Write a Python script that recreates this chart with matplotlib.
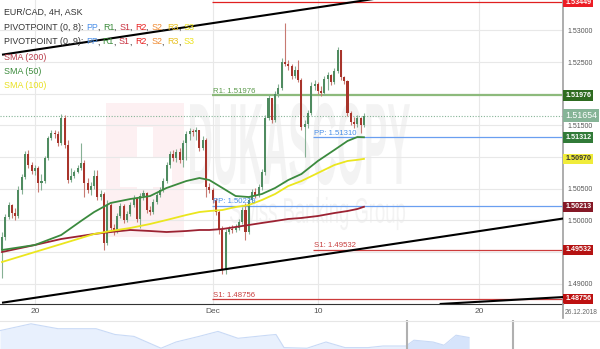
import numpy as np
import matplotlib.pyplot as plt
from matplotlib.patches import Rectangle, PathPatch
from matplotlib.textpath import TextPath
from matplotlib.font_manager import FontProperties
from matplotlib.transforms import Affine2D, blended_transform_factory
from matplotlib.lines import Line2D

plt.rcParams["font.family"] = ["Liberation Sans", "DejaVu Sans"]

# EUR/CAD 4H candles, bar 0 = first visible candle
first_open = 1.49530
closes = [
    1.49735, 1.50052, 1.50241, 1.50114, 1.50067, 1.50478, 1.50684, 1.51047, 1.50873, 1.50779,
    1.50826, 1.50589, 1.50620, 1.50984, 1.51300, 1.51379, 1.51363, 1.51221, 1.51616, 1.51190,
    1.50636, 1.50700, 1.50763, 1.50826, 1.50905, 1.50589, 1.50478, 1.50541, 1.50700, 1.50367,
    1.50415, 1.49641, 1.50241, 1.49878, 1.49830, 1.50067, 1.50225, 1.50004, 1.50099, 1.50241,
    1.50352, 1.50020, 1.50383, 1.50431, 1.50162, 1.50130, 1.50288, 1.50399, 1.50478, 1.50620,
    1.50873, 1.51047, 1.50984, 1.51079, 1.50952, 1.51221, 1.51363, 1.51411, 1.51395, 1.51427,
    1.51142, 1.51269, 1.50525, 1.50478, 1.50320, 1.50130, 1.49846, 1.49213, 1.49814, 1.49862,
    1.49846, 1.49878, 1.49973, 1.50162, 1.49814, 1.50320, 1.50447, 1.50399, 1.50525, 1.50763,
    1.51616, 1.51933, 1.51585, 1.51996, 1.52091, 1.52502, 1.52470, 1.52439, 1.52280, 1.52375,
    1.52217, 1.51474, 1.51521, 1.51695, 1.52122, 1.52154, 1.52043, 1.52012, 1.52233, 1.52296,
    1.52186, 1.52360, 1.52692, 1.52265, 1.52201, 1.51695, 1.51553, 1.51521, 1.51616, 1.51506,
    1.51654,
]
highs = [
    1.49814, 1.50099, 1.50288, 1.50257, 1.50194, 1.50541, 1.50731, 1.51095, 1.51111, 1.50921,
    1.50873, 1.50858, 1.50731, 1.51016, 1.51332, 1.51427, 1.51427, 1.51411, 1.51680, 1.51664,
    1.51269, 1.50826, 1.50795, 1.50873, 1.51221, 1.50952, 1.50668, 1.50605, 1.50795, 1.50795,
    1.50478, 1.50447, 1.50320, 1.50273, 1.49941, 1.50114, 1.50273, 1.50257, 1.50146, 1.50288,
    1.50399, 1.50352, 1.50431, 1.50478, 1.50447, 1.50225, 1.50336, 1.50447, 1.50525, 1.50668,
    1.50921, 1.51095, 1.51111, 1.51127, 1.51142, 1.51269, 1.51411, 1.51458, 1.51442, 1.51474,
    1.51427, 1.51332, 1.51300, 1.50589, 1.50510, 1.50352, 1.50162, 1.49909, 1.49862, 1.49909,
    1.49925, 1.49941, 1.50020, 1.50209, 1.50273, 1.50367, 1.50494, 1.50510, 1.50573, 1.50810,
    1.51664, 1.51980, 1.51822, 1.52043, 1.52154, 1.52565, 1.53118, 1.52533, 1.52470, 1.52439,
    1.52533, 1.52249, 1.51585, 1.51743, 1.52186, 1.52217, 1.52186, 1.52122, 1.52280, 1.52344,
    1.52312, 1.52407, 1.52739, 1.52692, 1.52280, 1.52217, 1.51727, 1.51632, 1.51664, 1.51632,
    1.51695,
]
lows = [
    1.49087, 1.49688, 1.50020, 1.50036, 1.50004, 1.50036, 1.50415, 1.50652, 1.50826, 1.50731,
    1.50715, 1.50447, 1.50478, 1.50589, 1.50952, 1.51269, 1.51300, 1.51174, 1.51190, 1.51142,
    1.50589, 1.50605, 1.50668, 1.50747, 1.50795, 1.50367, 1.50431, 1.50399, 1.50494, 1.50320,
    1.50320, 1.49530, 1.49609, 1.49814, 1.49767, 1.49799, 1.50036, 1.49957, 1.49973, 1.50067,
    1.50209, 1.49973, 1.49878, 1.50320, 1.50114, 1.50083, 1.50099, 1.50257, 1.50367, 1.50447,
    1.50589, 1.50826, 1.50937, 1.50921, 1.50905, 1.50842, 1.50952, 1.51269, 1.51332, 1.51269,
    1.51095, 1.51111, 1.50367, 1.50431, 1.50273, 1.50083, 1.49783, 1.49150, 1.49150, 1.49783,
    1.49799, 1.49814, 1.49846, 1.49941, 1.49688, 1.49783, 1.50288, 1.50352, 1.50367, 1.50478,
    1.50715, 1.51585, 1.51537, 1.51553, 1.51948, 1.52059, 1.52439, 1.52375, 1.52233, 1.52249,
    1.52186, 1.51427, 1.51000, 1.51458, 1.51664, 1.52059, 1.51996, 1.51964, 1.51980, 1.52059,
    1.52138, 1.52154, 1.52328, 1.52217, 1.52154, 1.51648, 1.51506, 1.51458, 1.51474, 1.51379,
    1.51474,
]
opens = [first_open] + closes[:-1]

# moving averages, read at a few bars
sma_bars = [0, 10, 18, 24, 28, 33, 39, 45, 50, 56, 60, 63, 67, 71, 75, 79, 83, 87, 91, 96, 101, 105, 108, 110]
sma50 = [1.49530, 1.49609, 1.49767, 1.49988, 1.50130, 1.50273, 1.50336, 1.50383, 1.50510, 1.50620,
         1.50668, 1.50636, 1.50510, 1.50383, 1.50367, 1.50415, 1.50510, 1.50636, 1.50731, 1.50937,
         1.51111, 1.51253, 1.51316, 1.51312]
sma100 = [1.49340, 1.49498, 1.49624, 1.49719, 1.49783, 1.49830, 1.49878, 1.49941, 1.50004, 1.50083,
          1.50130, 1.50146, 1.50162, 1.50209, 1.50241, 1.50320, 1.50415, 1.50541, 1.50620, 1.50747,
          1.50873, 1.50937, 1.50955, 1.50970]
sma200 = [1.49498, 1.49609, 1.49704, 1.49751, 1.49783, 1.49814, 1.49846, 1.49830, 1.49814, 1.49830,
          1.49846, 1.49846, 1.49862, 1.49893, 1.49925, 1.49957, 1.49988, 1.50020, 1.50036, 1.50067,
          1.50114, 1.50146, 1.50178, 1.50213]

# pivot levels (monthly from Dec, weekly from Dec 10)
pivot_names = ["R2", "R1", "PP", "S1", "PP", "S1"]
pivot_values = [1.53449, 1.51976, 1.50229, 1.48756, 1.51310, 1.49532]
pivot_start = [63.8, 63.8, 63.8, 63.8, 94.6, 94.6]
pivot_colors = ["#e02020", "#8dba7c", "#6a9ff0", "#cc3a3a", "#6a9ff0", "#cc3a3a"]
pivot_text_colors = ["#d02020", "#5a9a4a", "#4a8fe8", "#c84040", "#4a8fe8", "#c84040"]

# trend lines: bar positions and prices at both ends
upper_trend = ([0, 130], [1.52617, 1.53631])
lower_trend = ([0, 171], [1.48696, 1.50031])
base_trend = ([133, 171], [1.48676, 1.48787])

last_price = 1.51654

# price boxes on the right axis
box_values = [1.53449, 1.51976, 1.51654, 1.51312, 1.50970, 1.50213, 1.49532, 1.48756]
box_colors = ["#ec1c24", "#2e6b20", "#86b497", "#317a38", "#f0ec3a", "#851826", "#b51212", "#bd1010"]
box_text = ["white", "white", "white", "white", "#333333", "white", "white", "white"]

ytick_values = [1.490, 1.495, 1.500, 1.505, 1.510, 1.515, 1.520, 1.525, 1.530]
ytick_hidden = [1.495, 1.510, 1.520]  # covered by the price boxes
xtick_bars = [10, 64, 96, 145]
xtick_labels = ["20", "Dec", "10", "20"]

# navigator (long history overview)
nav_x = [0, 31, 58, 96, 115, 134, 161, 176, 199, 218, 238, 268, 276, 284, 307, 326, 345, 368, 383,
         406, 414, 433, 444, 456, 469]
nav_vals = [18.4, 25.2, 20.3, 20.3, 14.5, 12.6, 0.8, 7.0, 12.6, 17.6, 10.7, 13.8, 14.5, 1.4, 0.8,
            7.0, 1.4, 1.4, 3.0, 3.0, 8.8, 7.0, 3.8, 13.8, 11.5]

fig = plt.figure(figsize=(6, 3.49), dpi=100)
ax = fig.add_axes([0, 45 / 349, 563 / 600, 304 / 349])
ax.set_xlim(-0.61, 170.5)
ax.set_ylim(1.48676, 1.53482)

# watermark: logo block and text
ax.add_patch(Rectangle((0.1883, 0.2204), 0.1385, 0.4408, transform=ax.transAxes, fc="#fdf0f2", ec="none", zorder=0.2))
ax.add_patch(Rectangle((0.2433, 0.375), 0.0285, 0.207, transform=ax.transAxes, fc="white", ec="none", zorder=0.3))
ax.add_patch(Rectangle((0.2131, 0.3849), 0.0924, 0.0987, transform=ax.transAxes, fc="white", ec="none", zorder=0.3))


def watermark(text, box, weight):
    tp = TextPath((0, 0), text, size=1, prop=FontProperties(family="Liberation Sans", weight=weight))
    bb = tp.get_extents()
    tr = (Affine2D().translate(-bb.x0, -bb.y0)
          .scale((box[2] - box[0]) / bb.width, (box[3] - box[1]) / bb.height)
          .translate(box[0], box[1]))
    ax.add_patch(PathPatch(tr.transform_path(tp), transform=ax.transAxes, fc="#f3f3f3", ec="none", zorder=0.4))


watermark("DUKASCOPY", (0.3375, 0.3914, 0.7282, 0.6612), "bold")
watermark("Swiss Banking Group", (0.4085, 0.2434, 0.7194, 0.352), "normal")

# grid
for v in ytick_values:
    ax.axhline(v, color="#e8e8e8", lw=0.8, zorder=0.5)
for b in xtick_bars:
    ax.axvline(b, color="#e8e8e8", lw=0.8, zorder=0.5)

# candles
idx = np.arange(len(closes))
o = np.array(opens)
c = np.array(closes)
hi = np.maximum(np.array(highs), np.maximum(o, c))
lo = np.minimum(np.array(lows), np.minimum(o, c))
up = c >= o
body_col = np.where(up, "#4f8b60", "#a8342b")
wick_col = np.where(up, "#86b094", "#c77a72")
ax.vlines(idx, lo, hi, colors=wick_col, lw=0.8, zorder=3)
height = np.maximum(np.abs(c - o), 0.00004)
ax.bar(idx, height, bottom=np.minimum(o, c), width=0.62, color=body_col, lw=0, zorder=4)

# moving averages
ax.plot(sma_bars, sma200, color="#9c2232", lw=1.3, zorder=5)
ax.plot(sma_bars, sma100, color="#ebe61e", lw=1.3, zorder=5)
ax.plot(sma_bars, sma50, color="#3b8a3e", lw=1.3, zorder=5)

# pivot lines
for name, val, start, col, tcol in zip(pivot_names, pivot_values, pivot_start, pivot_colors, pivot_text_colors):
    lw = 1.6 if name == "R1" else 0.9
    ax.hlines(val, start, 170.5, color=col, lw=lw, zorder=2)
    ax.text(start + 0.3, val + 0.00006, f"{name}: {val:.5f}", color=tcol, fontsize=5.6,
            va="bottom", ha="left", zorder=6, clip_on=True)

# current price line
ax.axhline(last_price, color="#86b497", lw=0.8, ls=(0, (1, 1.5)), zorder=2)

# trend lines
for xs, ys in (upper_trend, lower_trend, base_trend):
    ax.plot(xs, ys, color="black", lw=1.5, zorder=6, solid_capstyle="butt")

# axes styling
for side in ("left", "top"):
    ax.spines[side].set_visible(False)
ax.spines["right"].set_color("#a0a0a0")
ax.spines["right"].set_linewidth(1.2)
ax.spines["bottom"].set_color("#333333")
ax.spines["bottom"].set_linewidth(0.8)
ax.yaxis.tick_right()
ax.set_yticks(ytick_values)
ax.set_yticklabels(["" if v in ytick_hidden else f"{v:.5f}" for v in ytick_values])
ax.set_xticks(xtick_bars)
ax.set_xticklabels(xtick_labels)
ax.tick_params(axis="y", length=0, pad=3, labelsize=5, labelcolor="#555555")
ax.tick_params(axis="x", length=0, pad=3, labelsize=6, labelcolor="#555555")

trans = blended_transform_factory(ax.transAxes, ax.transData)
for val, bc, tc in zip(box_values, box_colors, box_text):
    big = val == last_price
    ax.text(1.004, val, f"{val:.5f}", transform=trans, color=tc, fontsize=6.3 if big else 5.1,
            fontweight="normal" if big else "bold", va="center", ha="left", clip_on=False, zorder=10,
            bbox=dict(boxstyle="square,pad=0.25", fc=bc, ec="none"))

fig.add_artist(Line2D([563 / 600, 563 / 600], [31 / 349, 45 / 349], color="#a0a0a0", lw=1.2))
fig.text(581 / 600, 1 - 312 / 349, "26.12.2018", fontsize=4.8, color="#666666", ha="center", va="center")

# legend text
pivot_parts = [("PP", "#4a8fe8"), ("R1", "#3a8a3a"), ("S1", "#c83240"), ("R2", "#e82020"),
               ("S2", "#f08a30"), ("R3", "#e8c020"), ("S3", "#ece21e")]


def pivot_legend(label):
    pieces = [(label, "#333333")]
    for k, (txt, col) in enumerate(pivot_parts):
        if k:
            pieces.append((", ", "#333333"))
        pieces.append((txt, col))
    return pieces


legend_lines = [
    [("EUR/CAD, 4H, ASK", "#333333")],
    pivot_legend("PIVOTPOINT (0, 8): "),
    pivot_legend("PIVOTPOINT (0, 9): "),
    [("SMA (200)", "#b83a48")],
    [("SMA (50)", "#3a8a3a")],
    [("SMA (100)", "#e8e020")],
]
legend_y = [12, 27, 42, 57, 71, 86]
for pieces, ypx in zip(legend_lines, legend_y):
    prev = None
    for text, col in pieces:
        if prev is None:
            prev = ax.annotate(text, xy=(4, 349 - ypx), xycoords="figure pixels", color=col,
                               fontsize=6.4, va="center", ha="left", zorder=8)
        else:
            prev = ax.annotate(text, xy=(1, 0), xycoords=prev, color=col,
                               fontsize=6.4, va="bottom", ha="left", zorder=8)

# navigator strip
nav = fig.add_axes([0, 0, 1, 29 / 349])
nav.set_xlim(0, 600)
nav.set_ylim(0, 29)
nav.fill_between(nav_x, nav_vals, 0, color="#e8f0fd", lw=0)
nav.plot(nav_x, nav_vals, color="#c9daf6", lw=0.8)
sel = [i for i, x in enumerate(nav_x) if x >= 406]
nav.fill_between([nav_x[i] for i in sel], [nav_vals[i] for i in sel], 0, color="#d6e4fb", lw=0)
nav.axvline(407, color="#b0b0b0", lw=1.5)
nav.axvline(513, color="#b0b0b0", lw=1.5)
nav.axhline(28.5, color="#e6e6e6", lw=0.8)
nav.axis("off")

fig.savefig("out.png", dpi=100)
